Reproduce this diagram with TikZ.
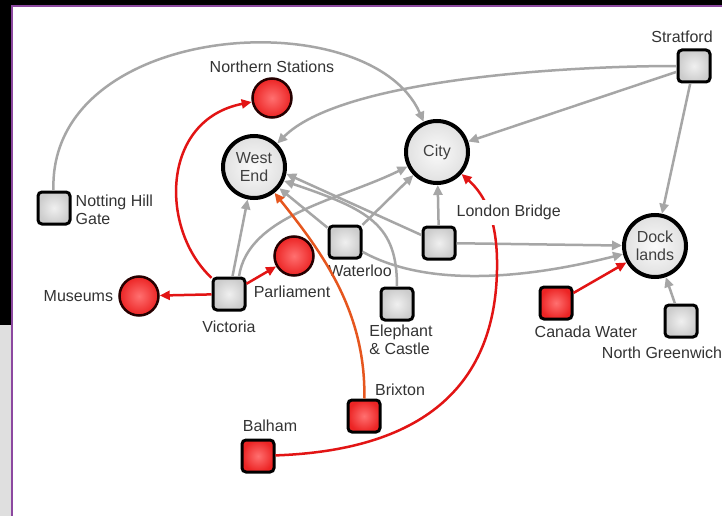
\documentclass[tikz,border=0pt]{standalone}
\usepackage{fontspec}
\setmainfont{Liberation Sans}
\usetikzlibrary{arrows.meta,positioning}
\definecolor{lg}{RGB}{166,166,166}
\definecolor{rl}{RGB}{226,20,20}
\definecolor{ol}{RGB}{230,86,30}
\definecolor{ri}{RGB}{255,112,112}
\definecolor{ro}{RGB}{236,36,36}
\definecolor{pu}{RGB}{140,72,160}
\begin{document}
\begin{tikzpicture}[x=1pt, y=-1pt,
  every node/.style={font=\fontsize{16}{18}\selectfont},
  hub/.style={circle, draw=black, line width=4pt, minimum size=62pt, inner sep=0pt, align=center, text=black!75, inner color=gray!4, outer color=gray!24},
  stop/.style={rectangle, rounded corners=4pt, draw=black, line width=3pt, minimum size=32pt, inner color=gray!12, outer color=gray!40},
  redstop/.style={stop, inner color=ri, outer color=ro},
  place/.style={circle, draw=black!85!red, line width=2.5pt, minimum size=39pt, inner color=ri, outer color=ro},
  lbl/.style={inner sep=1pt, text=black!80},
  link/.style={draw=lg, line width=2.5pt, -{Triangle[length=10pt,width=9pt]}},
  redlink/.style={link, draw=rl},
  orangelink/.style={link, draw=ol}
]
\useasboundingbox (0,0) rectangle (722,516);
% frame
\fill[black] (0,0) rectangle (722,516);
\fill[gray!25] (0,325) rectangle (12,516);
\fill[white] (12,6) rectangle (722,516);
\draw[pu, line width=2pt] (12,516) -- (12,6) -- (722,6);

% stations
\node[stop] (strat) at (694,66) {};
\node[place] (north) at (272,98) {};
\node[hub] (west) at (254,167) {West\\End};
\node[hub] (city) at (437,152) {City};
\node[stop] (nhg) at (54,208) {};
\node[stop] (lbr) at (439,243) {};
\node[stop] (wat) at (345,242) {};
\node[place] (parl) at (294,256) {};
\node[place] (mus) at (139,296) {};
\node[stop] (vic) at (229,294) {};
\node[stop] (eac) at (397,304) {};
\node[hub] (dock) at (655,246) {Dock\\lands};
\node[redstop] (canw) at (556,303) {};
\node[stop] (ngr) at (681,321) {};
\node[redstop] (brix) at (364,416) {};
\node[redstop] (bal) at (258,456) {};

% names
\node[lbl, above=5pt of strat, xshift=-12pt] (strat-l) {Stratford};
\node[lbl, above=3pt of north] (north-l) {Northern Stations};
\node[lbl, right=3pt of nhg, yshift=-2pt, align=left] (nhg-l) {Notting Hill\\Gate};
\node[lbl, below=4pt of wat, xshift=15pt] (wat-l) {Waterloo};
\node[lbl, below=8pt of parl, xshift=-2pt] (parl-l) {Parliament};
\node[lbl, left=4pt of mus] (mus-l) {Museums};
\node[lbl, below=8pt of vic] (vic-l) {Victoria};
\node[lbl, below=2pt of eac, xshift=4pt, align=left] (eac-l) {Elephant\\\& Castle};
\node[lbl, below=4pt of canw, xshift=30pt] (canw-l) {Canada Water};
\node[lbl, below=7pt of ngr, xshift=-19pt] (ngr-l) {North Greenwich};
\node[lbl, above=2pt of brix, xshift=36pt] (brix-l) {Brixton};
\node[lbl, above=6pt of bal, xshift=12pt] (bal-l) {Balham};

% grey links
\draw[link] (nhg) .. controls (48,20) and (370,0) .. (city);
\draw[link] (strat) .. controls (560,66) and (340,80) .. (west);
\draw[link] (strat) -- (city);
\draw[link] (strat) -- (dock);
\draw[link] (vic) -- (west);
\draw[link] ([xshift=10pt]vic.north) .. controls (248,215) and (340,200) .. (city);
\draw[link] (wat) -- (city);
\draw[link] (wat) -- (west.-40);
\draw[link] (lbr) -- (west.-12);
\draw[link] (eac) .. controls (397,225) and (370,210) .. (west.-25);
\draw[link] (lbr) -- (city);
\draw[link] (lbr) -- (dock);
\draw[link] (wat) .. controls (440,295) and (560,270) .. (dock);
\draw[link] (ngr) -- (dock);

% red links
\draw[redlink] (vic) .. controls (160,230) and (160,120) .. (north);
\draw[redlink] (vic) -- (mus);
\draw[redlink] (vic) -- (parl);
\draw[redlink] (canw) -- (dock);
\draw[orangelink] (brix) .. controls (366,310) and (320,250) .. (west);
\draw[redlink] (bal) .. controls (430,450) and (495,380) .. (497,270) .. controls (498,220) and (485,195) .. (city);

% label drawn last, it hides the red line
\node[lbl, fill=white, inner ysep=5pt, above right=0pt and -1pt of lbr] (lbr-l) {London Bridge};
\end{tikzpicture}
\end{document}
